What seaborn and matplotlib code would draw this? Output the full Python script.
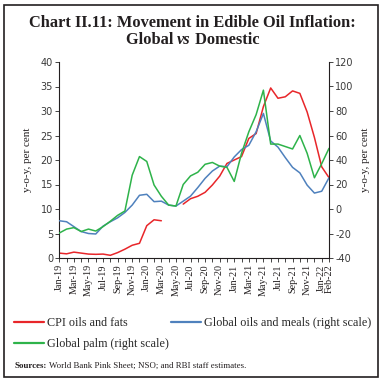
import seaborn as sns
import pandas as pd
import numpy as np
import matplotlib.pyplot as plt
from matplotlib.patches import Rectangle
from matplotlib.lines import Line2D

# monthly labels Jan-19 .. Feb-22
months = pd.date_range("2019-01-01", "2022-02-01", freq="MS").strftime("%b-%y").tolist()

# CPI oils and fats, y-o-y per cent (left scale); Apr/May-20 not available
cpi_oils_fats = [1.0, 0.85, 1.2, 1.0, 0.8, 0.75, 0.8, 0.55, 1.1, 1.8, 2.6, 3.0,
                 6.6, 7.8, 7.6, np.nan, np.nan, 11.0, 12.1, 12.6, 13.4, 14.9, 16.7, 19.3,
                 20.0, 20.7, 24.4, 25.4, 30.9, 34.7, 32.6, 32.9, 34.1, 33.6, 29.8, 24.6,
                 18.6, 16.4]
# Global oils and meals, y-o-y per cent (right scale)
global_oils_meals = [-9.6, -10.4, -14.4, -18.4, -20.0, -20.4, -14.0, -10.4, -7.2, -2.8, 3.2, 11.2,
                     12.0, 6.0, 6.4, 3.2, 2.4, 6.4, 10.5, 17.5, 25.0, 31.0, 35.0, 34.5,
                     42.5, 48.5, 52.0, 63.0, 78.0, 55.5, 50.5, 42.0, 34.0, 29.5, 19.5, 13.0,
                     14.5, 25.5]
# Global palm, y-o-y per cent (right scale)
global_palm = [-19.6, -16.4, -15.2, -18.4, -16.4, -18.0, -14.4, -10.0, -5.2, -1.6, 27.6, 42.8,
               38.8, 19.6, 10.4, 3.2, 2.4, 20.0, 27.0, 30.0, 36.5, 38.0, 35.0, 34.0,
               22.5, 45.5, 63.0, 77.0, 97.0, 53.0, 53.0, 51.0, 49.0, 60.0, 45.5, 25.5,
               37.0, 49.5]

RED = "#e8262a"
BLUE = "#4f81bd"
GREEN = "#2eb34a"
INK = "#231f20"

sns.set_style("white")
plt.rcParams["font.family"] = ["Liberation Serif", "DejaVu Serif"]
plt.rcParams["axes.unicode_minus"] = False

df = pd.DataFrame({
    "pos": range(len(months)),
    "month": months,
    "cpi": cpi_oils_fats,
    "oils": global_oils_meals,
    "palm": global_palm,
})

fig = plt.figure(figsize=(3.85, 3.84), dpi=100)
ax = fig.add_axes([59.3 / 385, 1 - 258 / 384, (329 - 59.3) / 385, 196 / 384])
ax2 = ax.twinx()

# red line has a gap, so draw the two stretches separately
sns.lineplot(data=df[df.pos <= 14], x="pos", y="cpi", color=RED, lw=1.1, ax=ax)
sns.lineplot(data=df[df.pos >= 17], x="pos", y="cpi", color=RED, lw=1.1, ax=ax)
sns.lineplot(data=df, x="pos", y="oils", color=BLUE, lw=1.1, ax=ax2)
sns.lineplot(data=df, x="pos", y="palm", color=GREEN, lw=1.1, ax=ax2)

ax.set_xlim(0, len(months) - 1)
ax.set_ylim(0, 40)
ax2.set_ylim(-40, 120)
ax.set_yticks(range(0, 41, 5))
ax2.set_yticks(range(-40, 121, 20))

ticklabels = [m if (i % 2 == 0 or i == len(months) - 1) else "" for i, m in enumerate(months)]
ax.set_xticks(range(len(months)))
ax.set_xticklabels(ticklabels, rotation=90, fontsize=7.3, color=INK)
ax.set_xlabel("")

for a in (ax, ax2):
    a.spines["top"].set_visible(False)
    for s in a.spines.values():
        s.set_color(INK)
        s.set_linewidth(0.8)
ax.spines["right"].set_visible(False)
ax2.spines["left"].set_visible(False)
ax2.spines["bottom"].set_visible(False)

ax.tick_params(axis="x", direction="out", length=3, width=0.6, pad=1.5, bottom=True)
ax.tick_params(axis="y", direction="out", length=3, width=0.6, pad=1.5, left=True,
               labelsize=7, labelcolor="#3a3a3a", labelfontfamily="DejaVu Sans")
ax2.tick_params(axis="y", direction="out", length=3, width=0.6, pad=1.5, right=True,
                labelsize=7, labelcolor="#3a3a3a", labelfontfamily="DejaVu Sans")

ax.set_ylabel("y-o-y, per cent", fontsize=8, color=INK, labelpad=6)
ax2.set_ylabel("y-o-y, per cent", fontsize=8, color=INK, labelpad=5, rotation=90)

# title
title_kw = dict(fontsize=11.8, fontweight="bold", color=INK, ha="center", va="center")
fig.text(0.5, 1 - 23 / 384, "Chart II.11: Movement in Edible Oil Inflation:", **title_kw)
fig.canvas.draw()
r = fig.canvas.get_renderer()
parts = [("Global ", "normal"), ("vs", "italic"), (" Domestic", "normal")]
texts = []
for s, st in parts:
    t = fig.text(0, 1 - 40 / 384, s, fontsize=11.8, fontweight="bold", style=st,
                 color=INK, ha="left", va="center")
    texts.append(t)
widths = [t.get_window_extent(r).width / fig.bbox.width for t in texts]
x0 = 0.5 - sum(widths) / 2
for t, w in zip(texts, widths):
    t.set_x(x0)
    x0 += w

# legend
handles = [Line2D([], [], color=RED, lw=1.6), Line2D([], [], color=GREEN, lw=1.6),
           Line2D([], [], color=BLUE, lw=1.6)]
labels = ["CPI oils and fats", "Global palm (right scale)", "Global oils and meals (right scale)"]
fig.legend(handles, labels, loc="upper left", bbox_to_anchor=(14 / 385, 1 - 317 / 384),
           ncol=2, frameon=False, fontsize=8.7, handlelength=2.5, handletextpad=0.2,
           columnspacing=0.2, labelspacing=0.75, borderpad=0, borderaxespad=0)

# sources
st = fig.text(15 / 385, 1 - 366 / 384, "Sources:", fontsize=6.4, fontweight="bold",
              color=INK, va="center")
fig.canvas.draw()
w = st.get_window_extent(fig.canvas.get_renderer()).width / fig.bbox.width
fig.text(15 / 385 + w + 0.004, 1 - 366 / 384,
         "World Bank Pink Sheet; NSO; and RBI staff estimates.",
         fontsize=6.4, color=INK, va="center")

# outer frame
fig.patches.append(Rectangle((4 / 385, 1 - 377 / 384), 374 / 385, 372 / 384,
                             transform=fig.transFigure, fill=False, ec=INK, lw=1.2))

fig.savefig("out.png", dpi=100)
